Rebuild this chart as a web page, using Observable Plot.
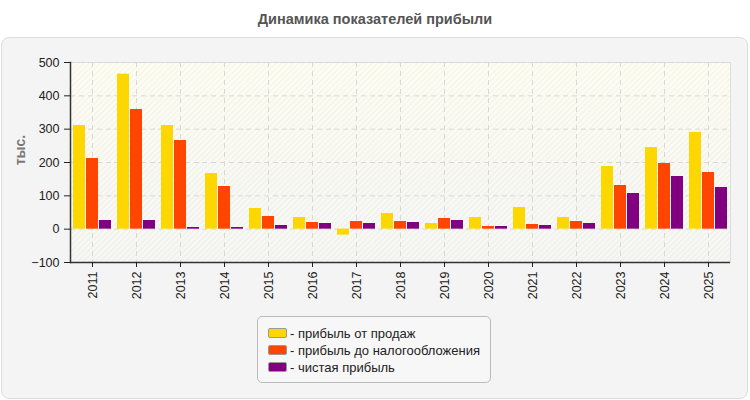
<!DOCTYPE html>
<html><head><meta charset="utf-8">
<script src="https://cdn.jsdelivr.net/npm/d3@7"></script>
<script src="https://cdn.jsdelivr.net/npm/@observablehq/plot@0.6"></script>
<style>
body{margin:0;background:#fff;font-family:"Liberation Sans",Arial,sans-serif;width:750px;height:400px;position:relative;overflow:hidden}
#title{position:absolute;left:0;top:11px;width:750px;text-align:center;font-weight:bold;font-size:14.5px;color:#555}
#panel{position:absolute;left:1px;top:37px;width:745px;height:360px;border:1px solid #ddd;border-radius:8px;background:#f4f4f4}
#chart{position:absolute;left:0;top:37px}
#ylabel{position:absolute;left:20px;top:150px;transform:translate(-50%,-50%) rotate(-90deg);font-weight:bold;font-size:14px;color:#777;white-space:nowrap}
#legend{position:absolute;left:257px;top:316px;width:232px;height:65px;border:1px solid #bbb;border-radius:5px;background:#f7f7f7;box-sizing:content-box}
.row{position:absolute;left:10px;height:18px;display:flex;align-items:center;font-size:13px;color:#222;white-space:nowrap}
.sw{width:17px;height:8px;border:1px solid #999;border-radius:2px;margin-right:3px}
</style></head>
<body>
<div id="title">Динамика показателей прибыли</div>
<div id="panel"></div>
<div id="chart"></div>
<div id="ylabel">тыс.</div>
<div id="legend"></div>
<script>
const years = ["2011","2012","2013","2014","2015","2016","2017","2018","2019","2020","2021","2022","2023","2024","2025"];
const seriesNames = ["прибыль от продаж","прибыль до налогообложения","чистая прибыль"];
const seriesColors = ["#FFD700","#FF4500","#800080"];
const salesProfit  = [311,465,311,167,62,35,-18,47,17,35,65,35,188,245,290];
const preTaxProfit = [212,359,266,128,38,20,23,23,32,8,14,23,131,197,170];
const netProfit    = [26,26,5,5,11,17,17,20,26,8,11,17,107,158,125];
const yTicks = [-100,0,100,200,300,400,500];

const allSeries = [salesProfit, preTaxProfit, netProfit];
const data = [];
years.forEach((yr, i) => allSeries.forEach((s, j) => data.push({year: yr, series: seriesNames[j], value: s[i]})));

const chart = Plot.plot({
  width: 750, height: 270,
  marginLeft: 69, marginRight: 19, marginTop: 25, marginBottom: 45,
  style: {background: "transparent", fontFamily: "'Liberation Sans', Arial, sans-serif", fontSize: "12.5px", color: "#222", overflow: "visible"},
  fx: {domain: years, padding: 0, label: null},
  x: {domain: seriesNames, paddingInner: 0.08, paddingOuter: 0.22, axis: null},
  y: {domain: [-100, 500], label: null},
  color: {domain: seriesNames, range: seriesColors},
  marks: [
    Plot.frame({facet: "super", fill: "url(#bggrad)", stroke: "none"}),
    Plot.frame({facet: "super", fill: "url(#hatch)", stroke: "#ddd"}),
    Plot.gridY({ticks: yTicks, stroke: "#d8d8d8", strokeOpacity: 1, strokeDasharray: "5,4"}),
    Plot.gridFx({stroke: "#d8d8d8", strokeOpacity: 1, strokeDasharray: "5,4"}),
    Plot.barY(data, {fx: "year", x: "series", y: "value", fill: "series"}),
    Plot.ruleY([-100], {stroke: "#333", strokeWidth: 1.5}),
    Plot.frame({facet: "super", anchor: "left", stroke: "#333", strokeWidth: 1.5}),
    Plot.axisY({ticks: yTicks, anchor: "left", tickSize: 6, tickPadding: 5, label: null}),
    Plot.axisFx({anchor: "bottom", tickRotate: -90, tickSize: 5, tickPadding: 4, label: null})
  ]
});

const svg = d3.select(chart);
const defs = svg.insert("defs", ":first-child");
const g = defs.append("linearGradient").attr("id", "bggrad").attr("x1", 0).attr("y1", 0).attr("x2", 0).attr("y2", 1);
g.append("stop").attr("offset", "0%").attr("stop-color", "#fefef3");
g.append("stop").attr("offset", "100%").attr("stop-color", "#f7f7f5");
const p = defs.append("pattern").attr("id", "hatch").attr("patternUnits", "userSpaceOnUse")
  .attr("width", 4).attr("height", 4).attr("patternTransform", "rotate(45)");
p.append("line").attr("x1", 1).attr("y1", 0).attr("x2", 1).attr("y2", 4)
  .attr("stroke", "#000").attr("stroke-opacity", 0.045).attr("stroke-width", 1.2);

document.getElementById("chart").appendChild(chart);

const legend = document.getElementById("legend");
seriesNames.forEach((name, i) => {
  const row = document.createElement("div");
  row.className = "row";
  row.style.top = (7 + i * 17) + "px";
  const sw = document.createElement("div");
  sw.className = "sw";
  sw.style.background = seriesColors[i];
  row.appendChild(sw);
  row.appendChild(document.createTextNode("- " + name));
  legend.appendChild(row);
});
</script>
</body></html>
